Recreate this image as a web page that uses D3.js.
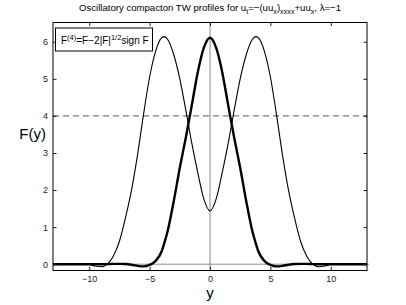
<!DOCTYPE html>
<html>
<head>
<meta charset="utf-8">
<script src="https://d3js.org/d3.v7.min.js"></script>
<style>
    body { margin: 0; background: #ffffff; }
    svg { display: block; font-family: 'Liberation Sans', Arial, sans-serif; }
</style>
</head>
<body>
<svg id="drawing_region"></svg>
<script>
// sample positions along y (shared by both profiles)
const ys = [-13, -12, -11, -10, -9.5, -9, -8.5, -8, -7.5, -7, -6.5, -6, -5.5, -5, -4.5, -4, -3.8, -3.5, -3, -2.5, -2, -1.5, -1, -0.5,
    0, 0.5, 1, 1.5, 2, 2.5, 3, 3.5, 3.8, 4, 4.5, 5, 5.5, 6, 6.5, 7, 7.5, 8, 8.5, 9, 9.5, 10, 11, 12, 13];

// two-hump profile (thin line)
const thin_profile = [0, 0, 0, -0.01, -0.05, -0.07, 0.0, 0.22, 0.62, 1.25, 2.0, 2.95, 4.05, 5.05, 5.75, 6.11, 6.14, 6.06, 5.65, 5.0, 4.15, 3.25, 2.45, 1.75,
    1.44, 1.75, 2.45, 3.25, 4.15, 5.0, 5.65, 6.06, 6.14, 6.11, 5.75, 5.05, 4.05, 2.95, 2.0, 1.25, 0.62, 0.22, 0.0, -0.07, -0.05, -0.01, 0, 0, 0];

// single-hump profile (thick line)
const thick_profile = [0, 0, 0, 0, 0, 0, 0.003, 0.008, 0.01, 0.005, -0.015, -0.045, -0.06, -0.02, 0.09, 0.35, 0.55, 0.9, 1.7, 2.6, 3.42, 4.3, 5.2, 5.85,
    6.11, 5.85, 5.2, 4.3, 3.42, 2.6, 1.7, 0.9, 0.55, 0.35, 0.09, -0.02, -0.06, -0.045, -0.015, 0.005, 0.01, 0.008, 0.003, 0, 0, 0, 0, 0, 0];

const x_ticks = [-10, -5, 0, 5, 10];
const y_ticks = [0, 1, 2, 3, 4, 5, 6];
const dashed_level = [4];

class ProfileChart {
    constructor(config) {
        this.config = {
            parent: config.parent,
            width: config.width || 406,
            height: config.height || 305,
            margin: config.margin || { top: 22.5, right: 39, bottom: 34.5, left: 53 }
        }
        this.init();
    }

    init() {
        let self = this;

        self.svg = d3.select(self.config.parent)
            .attr('width', self.config.width)
            .attr('height', self.config.height);

        self.svg.append('rect')
            .attr('width', self.config.width)
            .attr('height', self.config.height)
            .attr('fill', '#ffffff');

        self.chart = self.svg.append('g')
            .attr('transform', `translate(${self.config.margin.left}, ${self.config.margin.top})`);

        self.inner_width = self.config.width - self.config.margin.left - self.config.margin.right;
        self.inner_height = self.config.height - self.config.margin.top - self.config.margin.bottom;

        self.xscale = d3.scaleLinear()
            .domain([-13, 13])
            .range([0, self.inner_width]);

        self.yscale = d3.scaleLinear()
            .domain([-0.17, 6.52])
            .range([self.inner_height, 0]);

        self.line = d3.line()
            .x(d => self.xscale(d[0]))
            .y(d => self.yscale(d[1]))
            .curve(d3.curveMonotoneX);
    }

    render() {
        let self = this;
        const tick_len = 3.5;

        // reference lines
        self.chart.append('line')
            .attr('x1', self.xscale(0)).attr('x2', self.xscale(0))
            .attr('y1', 0).attr('y2', self.inner_height)
            .attr('stroke', '#8a8a8a').attr('stroke-width', 1);

        self.chart.append('line')
            .attr('x1', 0).attr('x2', self.inner_width + 2)
            .attr('y1', self.yscale(0)).attr('y2', self.yscale(0))
            .attr('stroke', '#8a8a8a').attr('stroke-width', 1);

        self.chart.selectAll('.level')
            .data(dashed_level)
            .join('line')
            .attr('class', 'level')
            .attr('x1', 0).attr('x2', self.inner_width)
            .attr('y1', d => self.yscale(d)).attr('y2', d => self.yscale(d))
            .attr('stroke', '#555555')
            .attr('stroke-width', 1)
            .attr('stroke-dasharray', '6,4');

        // profiles
        self.chart.append('path')
            .datum(ys.map((y, i) => [y, thin_profile[i]]))
            .attr('fill', 'none')
            .attr('stroke', '#000')
            .attr('stroke-width', 1.1)
            .attr('d', self.line);

        self.chart.append('path')
            .datum(ys.map((y, i) => [y, thick_profile[i]]))
            .attr('fill', 'none')
            .attr('stroke', '#000')
            .attr('stroke-width', 2.4)
            .attr('d', self.line);

        // axes (ticks inside, MATLAB style)
        const fmt = d3.format('d');
        const xaxis = d3.axisBottom(self.xscale).tickValues(x_ticks).tickFormat(fmt).tickSize(-tick_len).tickPadding(5);
        const yaxis = d3.axisLeft(self.yscale).tickValues(y_ticks).tickFormat(fmt).tickSize(-tick_len).tickPadding(5);
        const xaxis_top = d3.axisTop(self.xscale).tickValues(x_ticks).tickSize(-tick_len).tickFormat('');
        const yaxis_right = d3.axisRight(self.yscale).tickValues(y_ticks).tickSize(-tick_len).tickFormat('');

        const groups = [
            self.chart.append('g').attr('transform', `translate(0, ${self.inner_height})`).call(xaxis),
            self.chart.append('g').call(yaxis),
            self.chart.append('g').call(xaxis_top),
            self.chart.append('g').attr('transform', `translate(${self.inner_width}, 0)`).call(yaxis_right)
        ];
        groups.forEach(g => {
            g.select('.domain').remove();
            g.selectAll('line').attr('stroke', '#222');
            g.selectAll('text')
                .attr('font-family', "'Liberation Sans', Arial, sans-serif")
                .attr('font-size', 9)
                .attr('fill', '#222');
        });

        self.chart.append('rect')
            .attr('width', self.inner_width)
            .attr('height', self.inner_height)
            .attr('fill', 'none')
            .attr('stroke', '#000')
            .attr('stroke-width', 1);

        // equation box
        self.chart.append('rect')
            .attr('x', 2.5)
            .attr('y', 5.5)
            .attr('width', 97)
            .attr('height', 23)
            .attr('fill', '#fff')
            .attr('stroke', '#000')
            .attr('stroke-width', 1);

        const eq = self.chart.append('text')
            .attr('x', 8)
            .attr('y', 21)
            .attr('font-size', 10);
        eq.append('tspan').text('F');
        eq.append('tspan').attr('font-size', 7.5).attr('dy', -4).text('(4)');
        eq.append('tspan').attr('dy', 4).text('=F\u22122|F|');
        eq.append('tspan').attr('font-size', 7.5).attr('dy', -4).text('1/2');
        eq.append('tspan').attr('dy', 4).text('sign F');

        // title
        const title = self.svg.append('text')
            .attr('x', self.config.margin.left + self.inner_width / 2)
            .attr('y', 11)
            .attr('text-anchor', 'middle')
            .attr('font-size', 9.6);
        const parts = [
            ['Oscillatory compacton TW profiles for u', 0], ['t', 1], ['=\u2212(uu', 0], ['x', 1], [')', 0],
            ['xxxx', 1], ['+uu', 0], ['x', 1], [', \u03bb=\u22121', 0]
        ];
        let shifted = 0;
        parts.forEach(p => {
            const dy = p[1] ? 3 - shifted : -shifted;
            shifted = p[1] ? 3 : 0;
            title.append('tspan')
                .attr('dy', dy)
                .attr('font-size', p[1] ? 7.2 : 9.6)
                .text(p[0]);
        });

        // axis labels
        self.svg.append('text')
            .attr('x', 46)
            .attr('y', 139)
            .attr('text-anchor', 'end')
            .attr('font-size', 15)
            .text('F(y)');

        self.svg.append('text')
            .attr('x', self.config.margin.left + self.xscale(0))
            .attr('y', 298)
            .attr('text-anchor', 'middle')
            .attr('font-size', 15)
            .text('y');
    }
}

let chart = new ProfileChart({ parent: '#drawing_region' });
chart.render();
</script>
</body>
</html>
